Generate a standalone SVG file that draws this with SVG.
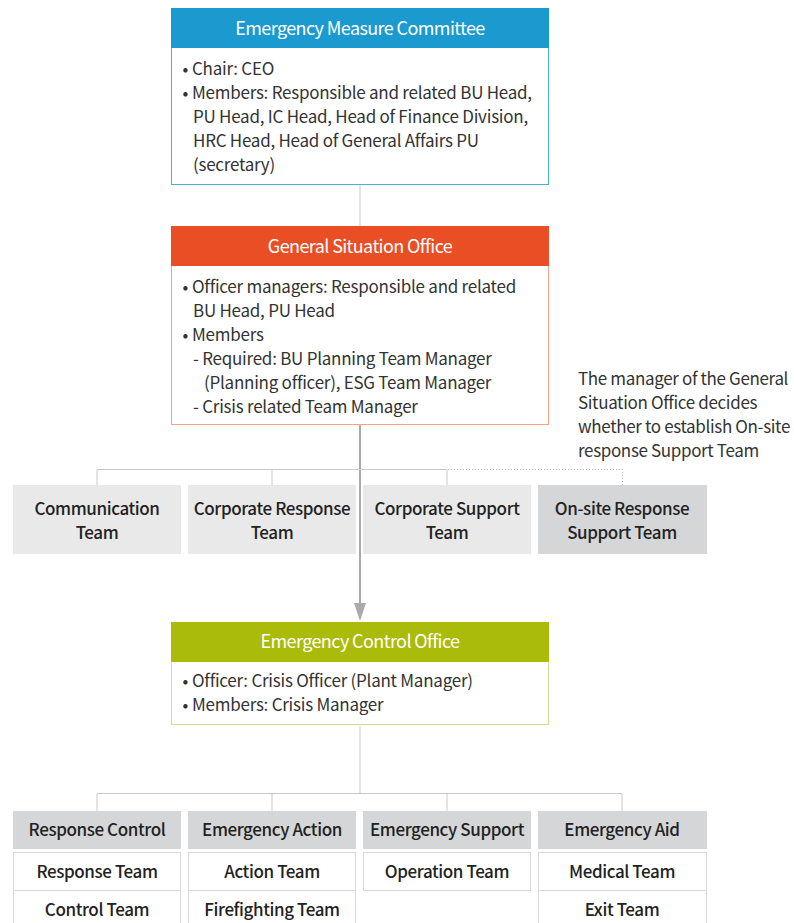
<svg xmlns="http://www.w3.org/2000/svg" width="794" height="923" viewBox="0 0 794 923">
<style>
text{font-family:"Noto Sans CJK KR","Noto Sans",sans-serif}
.hdr{font-size:18px;fill:#fff;text-anchor:middle;letter-spacing:-0.6px}
.body{font-size:17px;fill:#333;letter-spacing:-0.25px}
.team{font-size:17px;font-weight:500;fill:#222;text-anchor:middle;letter-spacing:-0.4px}
.note{font-size:17px;fill:#333;letter-spacing:-0.35px}
.conn{stroke:#c8c8c8;stroke-width:1;fill:none}
.dot{stroke:#b8b8b8;stroke-width:1;fill:none;stroke-dasharray:1 2}
.tbox{fill:#e9e9e9}
.tbox2{fill:#d5d6d8}
.cell{fill:#fff;stroke:#d9d9d9;stroke-width:1}
</style>

<g id="connectors">
  <line class="conn" x1="360" y1="185" x2="360" y2="226"/>
  <line x1="360" y1="425" x2="360" y2="604" stroke="#aaaaaa" stroke-width="2"/>
  <polygon points="354,603 366,603 360,621" fill="#aaaaaa"/>
  <path class="conn" d="M97,485 V469.5 H447 M272,469.5 V485 M447,469.5 V485"/>
  <path class="dot" d="M448,469.5 H622.5 V485"/>
  <path class="conn" d="M360,726 V793.5 M97,811 V793.5 H622 V811 M272,793.5 V811 M447,793.5 V811"/>
</g>

<g id="emergency-measure-committee">
  <rect x="171.5" y="8.5" width="377" height="176" fill="#fff" stroke="#4aaedb"/>
  <rect x="171" y="8" width="378" height="40" fill="#1b9ad0"/>
  <text class="hdr" x="360" y="35">Emergency Measure Committee</text>
  <text class="body" x="182.5" y="75">•</text>
  <text class="body" x="192" y="75">Chair: CEO</text>
  <text class="body" x="182.5" y="99">•</text>
  <text class="body" x="192" y="99">Members: Responsible and related BU Head,</text>
  <text class="body" x="193" y="123">PU Head, IC Head, Head of Finance Division,</text>
  <text class="body" x="193" y="147">HRC Head, Head of General Affairs PU</text>
  <text class="body" x="193" y="171">(secretary)</text>
</g>

<g id="general-situation-office">
  <rect x="171.5" y="226.5" width="377" height="198" fill="#fff" stroke="#f3a487"/>
  <rect x="171" y="226" width="378" height="40" fill="#e94e24"/>
  <text class="hdr" x="360" y="253">General Situation Office</text>
  <text class="body" x="182.5" y="293">•</text>
  <text class="body" x="192" y="293">Officer managers: Responsible and related</text>
  <text class="body" x="193" y="317">BU Head, PU Head</text>
  <text class="body" x="182.5" y="341">•</text>
  <text class="body" x="192" y="341">Members</text>
  <text class="body" x="193" y="365">- Required: BU Planning Team Manager</text>
  <text class="body" x="204" y="389">(Planning officer), ESG Team Manager</text>
  <text class="body" x="193" y="413">- Crisis related Team Manager</text>
</g>

<g id="note">
  <text class="note" x="578" y="385">The manager of the General</text>
  <text class="note" x="578" y="409">Situation Office decides</text>
  <text class="note" x="578" y="433">whether to establish On-site</text>
  <text class="note" x="578" y="457">response Support Team</text>
</g>

<g id="communication-team">
  <rect class="tbox" x="13" y="485" width="168" height="69"/>
  <text class="team" x="97" y="515">Communication</text>
  <text class="team" x="97" y="539">Team</text>
</g>
<g id="corporate-response-team">
  <rect class="tbox" x="188" y="485" width="168" height="69"/>
  <text class="team" x="272" y="515">Corporate Response</text>
  <text class="team" x="272" y="539">Team</text>
</g>
<g id="corporate-support-team">
  <rect class="tbox" x="363" y="485" width="168" height="69"/>
  <text class="team" x="447" y="515">Corporate Support</text>
  <text class="team" x="447" y="539">Team</text>
</g>
<g id="onsite-response-support-team">
  <rect class="tbox2" x="538" y="485" width="169" height="69"/>
  <text class="team" x="622" y="515">On-site Response</text>
  <text class="team" x="622" y="539">Support Team</text>
</g>

<g id="emergency-control-office">
  <rect x="171.5" y="622.5" width="377" height="102" fill="#fff" stroke="#d4dd8f"/>
  <rect x="171" y="622" width="378" height="40" fill="#abbb0a"/>
  <text class="hdr" x="360" y="648">Emergency Control Office</text>
  <text class="body" x="182.5" y="687">•</text>
  <text class="body" x="192" y="687">Officer: Crisis Officer (Plant Manager)</text>
  <text class="body" x="182.5" y="711">•</text>
  <text class="body" x="192" y="711">Members: Crisis Manager</text>
</g>

<g id="response-control">
  <rect class="tbox2" x="13" y="811" width="168" height="38"/>
  <text class="team" x="97" y="836">Response Control</text>
  <rect class="cell" x="13.5" y="852.5" width="167" height="38"/>
  <text class="team" x="97" y="878">Response Team</text>
  <rect class="cell" x="13.5" y="890.5" width="167" height="38"/>
  <text class="team" x="97" y="916">Control Team</text>
</g>
<g id="emergency-action">
  <rect class="tbox2" x="188" y="811" width="168" height="38"/>
  <text class="team" x="272" y="836">Emergency Action</text>
  <rect class="cell" x="188.5" y="852.5" width="167" height="38"/>
  <text class="team" x="272" y="878">Action Team</text>
  <rect class="cell" x="188.5" y="890.5" width="167" height="38"/>
  <text class="team" x="272" y="916">Firefighting Team</text>
</g>
<g id="emergency-support">
  <rect class="tbox2" x="363" y="811" width="168" height="38"/>
  <text class="team" x="447" y="836">Emergency Support</text>
  <rect class="cell" x="363.5" y="852.5" width="167" height="38"/>
  <text class="team" x="447" y="878">Operation Team</text>
</g>
<g id="emergency-aid">
  <rect class="tbox2" x="538" y="811" width="169" height="38"/>
  <text class="team" x="622" y="836">Emergency Aid</text>
  <rect class="cell" x="538.5" y="852.5" width="168" height="38"/>
  <text class="team" x="622" y="878">Medical Team</text>
  <rect class="cell" x="538.5" y="890.5" width="168" height="38"/>
  <text class="team" x="622" y="916">Exit Team</text>
</g>
</svg>
